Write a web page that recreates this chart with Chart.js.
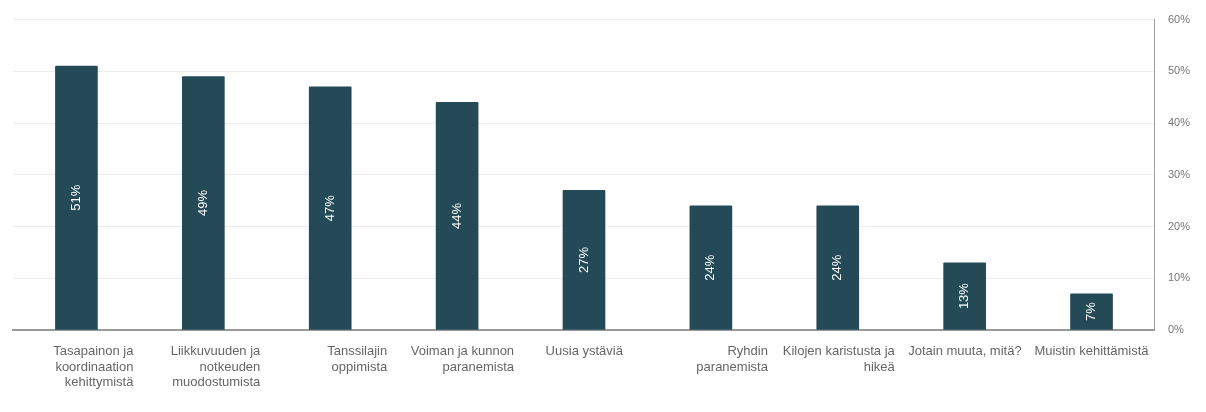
<!DOCTYPE html>
<html>
<head>
<meta charset="utf-8">
<script src="https://cdn.jsdelivr.net/npm/chart.js@4/dist/chart.umd.min.js"></script>
<style>
  html, body { margin: 0; padding: 0; background: #fff; }
  #wrap { width: 1206px; height: 412px; position: relative; }
</style>
</head>
<body>
<div id="wrap"><canvas id="chart1"></canvas></div>
<script>
// Kategoriat (rivitettyinä kuten kuvassa)
var categories = [
  ['Tasapainon ja', 'koordinaation', 'kehittymistä'],
  ['Liikkuvuuden ja', 'notkeuden', 'muodostumista'],
  ['Tanssilajin', 'oppimista'],
  ['Voiman ja kunnon', 'paranemista'],
  ['Uusia ystäviä     '],
  ['Ryhdin', 'paranemista'],
  ['Kilojen karistusta ja', 'hikeä'],
  ['Jotain muuta, mitä?'],
  ['Muistin kehittämistä']
];
var values = [51, 49, 47, 44, 27, 24, 24, 13, 7];
var yTicks = [0, 10, 20, 30, 40, 50, 60];

// Arvot pylväiden sisään pystyyn
var barLabels = {
  id: 'barLabels',
  afterDatasetsDraw: function (chart) {
    var ctx = chart.ctx;
    var meta = chart.getDatasetMeta(0);
    ctx.save();
    ctx.fillStyle = '#ffffff';
    ctx.font = '13px "Liberation Sans", Arial, sans-serif';
    ctx.textAlign = 'center';
    ctx.textBaseline = 'middle';
    meta.data.forEach(function (bar, i) {
      var cy = (bar.y + bar.base) / 2;
      ctx.save();
      ctx.translate(bar.x, cy);
      ctx.rotate(-Math.PI / 2);
      ctx.fillText(values[i] + '%', 0, 0);
      ctx.restore();
    });
    ctx.restore();
  }
};

var ctx1 = document.getElementById('chart1').getContext('2d');
var chart1 = new Chart(ctx1, {
  type: 'bar',
  data: {
    labels: categories,
    datasets: [{
      data: values,
      backgroundColor: '#244a57',
      barThickness: 42,
      borderRadius: 1,
      borderSkipped: 'bottom'
    }]
  },
  options: {
    responsive: true,
    maintainAspectRatio: false,
    animation: false,
    layout: { padding: { left: 13, right: 3, top: 12, bottom: 8 } },
    plugins: {
      legend: { display: false },
      tooltip: { enabled: false }
    },
    scales: {
      x: {
        grid: { display: false, drawTicks: false },
        border: { display: true, color: '#9a9a9a', width: 2 },
        afterFit: function (axis) {
          axis.paddingLeft = 0;
          axis.paddingRight = 0;
        },
        ticks: {
          autoSkip: false,
          maxRotation: 0,
          minRotation: 0,
          align: 'end',
          labelOffset: 57,
          padding: 14,
          color: '#666666',
          font: { family: '"Liberation Sans", Arial, sans-serif', size: 13, lineHeight: 1.18 }
        }
      },
      y: {
        position: 'right',
        min: yTicks[0],
        max: yTicks[yTicks.length - 1],
        afterBuildTicks: function (axis) {
          axis.ticks = yTicks.map(function (v) { return { value: v }; });
        },
        grid: { color: '#ececec', drawTicks: false },
        border: { display: true, color: '#a0a0a0', width: 1 },
        ticks: {
          padding: 13,
          color: '#777777',
          font: { family: '"Liberation Sans", Arial, sans-serif', size: 11 },
          callback: function (v) { return v + '%'; }
        }
      }
    }
  },
  plugins: [barLabels]
});
</script>
</body>
</html>
